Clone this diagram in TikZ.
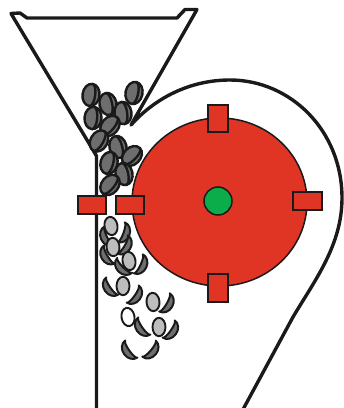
\documentclass[tikz,border=0pt]{standalone}
\usepackage{tikz}
\usetikzlibrary{calc}
\definecolor{rotorred}{HTML}{E03424}
\definecolor{hubgreen}{HTML}{0BAD4A}
\definecolor{beangray}{HTML}{6E6E6E}
\definecolor{kernelgray}{HTML}{BDBDBD}
\definecolor{inkline}{HTML}{1A1A1A}
\tikzset{
	wall/.style={line width=3.4pt, draw=inkline, line join=round},
	beanline/.style={line width=2.4pt, draw=inkline},
	husk/.style={line width=2pt, draw=inkline, fill=beangray, line join=round},
	blade/.style={line width=1.6pt, draw=inkline, fill=rotorred}
}
% whole bean: shell with its seam
\def\bean(#1:#2){\begin{scope}[shift={(#1)},rotate=#2]
	\draw[beanline, fill=beangray] (0,0) ellipse (0.85 and 1.12);
	\draw[beanline] (0,-1.12) arc[start angle=270, end angle=450, x radius=0.42, y radius=1.12];
\end{scope}}
% loose kernel
\def\kernel[#1](#2:#3){\begin{scope}[shift={(#2)},rotate=#3]
	\draw[line width=1.9pt, draw=inkline, fill=#1] (0,0) ellipse (0.65 and 0.92);
\end{scope}}
% half shell, opening to the right before rotation
\def\shell(#1:#2){\begin{scope}[shift={(#1)},rotate=#2]
	\draw[husk] (0.52,-1.05) arc[start angle=270, end angle=90, x radius=0.88, y radius=1.05]
		arc[start angle=90, end angle=270, x radius=0.25, y radius=1.05] -- cycle;
\end{scope}}

\begin{document}
\begin{tikzpicture}[x=10pt, y=-10pt]
	%%%%% START %%%%%
	\useasboundingbox (0,0) rectangle (34.4,40.8);
	
	% hopper and housing
	\draw[wall] (9.65,41.5) -- (9.65,15.6) -- (9.3,15.0) -- (1.1,1.35) -- (2.0,1.3) -- (2.7,1.8)
		-- (17.7,1.8) -- (18.5,0.95) -- (19.7,0.95) -- (13.1,12.5)
		.. controls (15.5,9.8) and (19.0,8.0) .. (23.0,8.0)
		.. controls (29.0,8.0) and (34.2,13.0) .. (34.2,19.8)
		.. controls (34.2,24.5) and (31.5,28.0) .. (29.3,31.7)
		-- (24.0,41.5);
	
	% rotor
	\draw[line width=1.5pt, draw=inkline, fill=rotorred] (21.95,20.2) ellipse (8.75 and 8.4);
	\draw[blade] (20.8,10.5) rectangle (22.8,13.2);
	\draw[blade] (20.8,27.4) rectangle (22.8,30.2);
	\draw[blade] (29.3,19.2) rectangle (32.2,21.0);
	\draw[blade] (11.6,19.6) rectangle (14.4,21.4);
	\draw[blade] (7.8,19.6) rectangle (10.6,21.4);
	\draw[line width=1.5pt, draw=inkline, fill=hubgreen] (21.8,20.1) circle (1.4);
	
	% beans in the hopper
	\bean(9.1,9.5:-8)
	\bean(10.8,10.4:12)
	\bean(13.4,9.3:-12)
	\bean(9.3,11.8:-5)
	\bean(12.3,11.3:8)
	\bean(11.0,12.6:-40)
	\bean(9.9,14.1:-30)
	\bean(11.8,14.7:15)
	\bean(13.2,15.6:-45)
	\bean(10.9,16.3:-15)
	\bean(12.4,17.4:12)
	\bean(11.0,18.5:-40)
	
	% split shells
	\shell(10.45,23.8:25)
	\shell(12.6,23.4:160)
	\shell(10.5,25.7:30)
	\shell(12.7,24.7:150)
	\shell(12.1,26.9:45)
	\shell(14.3,26.6:155)
	\shell(10.8,28.9:35)
	\shell(13.7,29.7:145)
	\shell(16.9,30.5:150)
	\shell(14.0,32.9:35)
	\shell(17.3,33.2:145)
	\shell(12.7,35.2:35)
	\shell(15.3,35.2:140)
	
	% kernels
	\kernel[kernelgray](11.1,22.6:10)
	\kernel[kernelgray](11.3,24.7:5)
	\kernel[kernelgray](12.9,26.1:10)
	\kernel[kernelgray](12.3,28.6:0)
	\kernel[kernelgray](15.3,30.2:5)
	\kernel[kernelgray](15.9,32.7:0)
	\kernel[white](12.8,31.7:10)
	
	%%%%% END %%%%%
\end{tikzpicture}
\end{document}
